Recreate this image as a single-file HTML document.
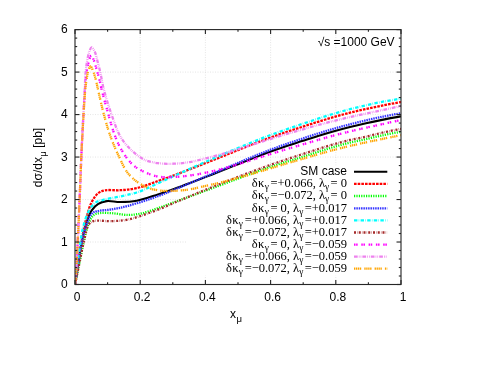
<!DOCTYPE html>
<html><head><meta charset="utf-8"><title>plot</title>
<style>
html,body{margin:0;padding:0;background:#fff;font-family:"Liberation Sans",sans-serif;}
body{width:480px;height:371px;position:relative;overflow:hidden;font-family:"Liberation Sans",sans-serif;}
#tx{position:absolute;left:0;top:0;width:480px;height:371px;will-change:transform;opacity:0.999;}
.t{position:absolute;font-family:"Liberation Sans",sans-serif;font-size:12px;line-height:14px;color:#000;white-space:nowrap;}
.xt{width:40px;text-align:center;}
.yt{left:27.8px;width:40px;text-align:right;}
.sub{font-size:9.6px;position:relative;top:4.2px;margin-left:0.4px;}
.yl{left:-12px;top:150px;width:100px;text-align:center;transform:rotate(-90deg);transform-origin:50% 50%;}
.lg0{left:147px;width:200px;text-align:right;}
.lg{left:147px;width:200px;text-align:right;font-family:"Liberation Serif",serif;font-size:12.5px;}
.sb{font-size:9.4px;position:relative;top:3.0px;}
.gk{letter-spacing:0.3px;}
.e1{margin-left:-1.5px;}
.e2{margin-left:-1.7px;}
</style></head><body>
<svg width="480" height="371" viewBox="0 0 480 371" style="position:absolute;left:0;top:0">
<rect width="480" height="371" fill="#fff"/>
<g stroke="#dadada" stroke-width="0.7" stroke-dasharray="1 1.5" fill="none"><line x1="140.20" y1="29.60" x2="140.20" y2="284.50"/><line x1="205.40" y1="29.60" x2="205.40" y2="284.50"/><line x1="270.60" y1="29.60" x2="270.60" y2="284.50"/><line x1="335.80" y1="29.60" x2="335.80" y2="284.50"/><line x1="75.00" y1="242.02" x2="401.00" y2="242.02"/><line x1="75.00" y1="199.53" x2="401.00" y2="199.53"/><line x1="75.00" y1="157.05" x2="401.00" y2="157.05"/><line x1="75.00" y1="114.57" x2="401.00" y2="114.57"/><line x1="75.00" y1="72.08" x2="401.00" y2="72.08"/></g>
<rect x="187" y="165.5" width="213" height="110" fill="#fff"/>
<defs><clipPath id="cp"><rect x="75.00" y="29.60" width="326.00" height="254.90"/></clipPath></defs>
<filter id="bl" x="0" y="0" width="480" height="371" filterUnits="userSpaceOnUse"><feGaussianBlur stdDeviation="0.35"/></filter>
<g filter="url(#bl)">
<g clip-path="url(#cp)" fill="none" stroke-width="2.30" stroke-linejoin="round">
<path d="M75.00 284.50 C76.17 277.00 77.35 269.28 78.50 262.00 C79.58 255.14 80.34 248.65 81.70 242.00 C83.07 235.27 84.77 227.59 86.70 221.88 C88.20 217.43 89.55 213.48 91.70 210.35 C93.54 207.66 95.76 205.39 98.30 203.85 C100.78 202.35 103.54 201.53 106.70 201.14 C110.59 200.66 115.32 202.03 120.00 202.02 C125.25 202.01 130.86 201.89 136.70 200.82 C143.43 199.58 151.43 196.54 158.00 194.43 C163.73 192.59 168.68 190.85 174.00 188.95 C179.34 187.05 184.67 185.05 190.00 183.04 C195.34 181.02 200.67 178.94 206.00 176.86 C211.34 174.78 216.67 172.70 222.00 170.58 C227.34 168.47 232.66 166.29 238.00 164.17 C243.33 162.05 248.66 159.92 254.00 157.86 C259.33 155.81 264.66 153.79 270.00 151.85 C275.32 149.93 280.66 148.08 286.00 146.28 C291.32 144.49 296.67 142.81 302.00 141.09 C307.33 139.38 312.66 137.62 318.00 135.97 C323.32 134.33 328.66 132.72 334.00 131.22 C339.32 129.72 344.66 128.29 350.00 126.95 C355.32 125.62 360.66 124.39 366.00 123.21 C371.33 122.03 376.66 120.92 382.00 119.86 C387.33 118.80 394.78 117.45 398.00 116.86 C399.39 116.60 400.00 116.50 401.00 116.33" stroke="#000000" stroke-width="2.1"/>
<path d="M75.00 284.50 C76.17 277.00 77.37 269.39 78.50 262.00 C79.60 254.83 80.39 248.06 81.70 240.80 C83.09 233.05 84.80 223.85 86.70 216.88 C88.22 211.30 89.52 206.24 91.70 202.05 C93.54 198.51 95.78 195.01 98.30 193.05 C100.33 191.47 102.26 190.88 105.00 190.33 C108.95 189.54 114.88 190.56 120.00 190.22 C125.43 189.86 130.86 189.44 136.70 188.12 C143.44 186.60 151.42 183.35 158.00 181.08 C163.73 179.10 168.68 177.29 174.00 175.31 C179.34 173.33 184.67 171.27 190.00 169.20 C195.34 167.13 200.67 165.01 206.00 162.90 C211.33 160.79 216.67 158.68 222.00 156.54 C227.34 154.40 232.66 152.21 238.00 150.08 C243.33 147.95 248.66 145.81 254.00 143.75 C259.32 141.69 264.65 139.66 270.00 137.72 C275.32 135.79 280.66 133.94 286.00 132.14 C291.32 130.34 296.67 128.66 302.00 126.94 C307.33 125.21 312.66 123.45 318.00 121.80 C323.32 120.15 328.66 118.53 334.00 117.02 C339.32 115.51 344.66 114.07 350.00 112.72 C355.32 111.38 360.66 110.15 366.00 108.96 C371.33 107.77 376.66 106.66 382.00 105.59 C387.33 104.54 394.78 103.18 398.00 102.59 C399.39 102.34 400.00 102.24 401.00 102.07" stroke="#ff0000" stroke-dasharray="2.6 1.07"/>
<path d="M75.00 284.50 C76.33 278.00 77.57 271.90 79.00 265.00 C80.61 257.20 82.47 247.37 84.20 240.08 C85.57 234.33 86.56 229.13 88.30 224.74 C89.72 221.15 91.05 217.31 93.30 215.40 C95.14 213.83 97.42 213.52 100.00 213.10 C103.32 212.56 107.47 212.93 111.70 213.17 C116.76 213.46 123.06 215.00 128.30 214.97 C133.01 214.94 137.06 214.36 141.70 213.35 C146.92 212.21 152.61 209.96 158.00 208.12 C163.38 206.28 168.67 204.26 174.00 202.31 C179.34 200.36 184.67 198.39 190.00 196.42 C195.33 194.45 200.67 192.47 206.00 190.50 C211.33 188.53 216.67 186.58 222.00 184.60 C227.34 182.62 232.66 180.59 238.00 178.60 C243.33 176.61 248.66 174.61 254.00 172.68 C259.33 170.76 264.65 168.85 270.00 167.05 C275.32 165.27 280.66 163.59 286.00 161.92 C291.33 160.26 296.67 158.72 302.00 157.05 C307.34 155.38 312.66 153.58 318.00 151.89 C323.33 150.21 328.65 148.50 334.00 146.95 C339.32 145.41 344.65 143.93 350.00 142.62 C355.32 141.33 360.67 140.34 366.00 139.14 C371.34 137.94 376.66 136.57 382.00 135.42 C387.32 134.28 394.77 132.88 398.00 132.28 C399.39 132.02 400.00 131.94 401.00 131.76" stroke="#00ff00" stroke-dasharray="1.2 1.2"/>
<path d="M75.00 284.50 C76.17 277.00 77.34 269.18 78.50 262.00 C79.57 255.40 80.34 249.29 81.70 243.00 C83.07 236.68 84.76 229.47 86.70 224.18 C88.20 220.08 89.59 215.76 91.70 213.65 C93.16 212.20 94.52 211.94 96.70 211.30 C100.30 210.25 106.59 210.25 111.70 209.37 C117.11 208.44 122.02 207.46 128.30 205.77 C136.82 203.47 149.66 199.15 158.00 196.15 C164.19 193.92 168.68 191.96 174.00 189.79 C179.34 187.61 184.67 185.35 190.00 183.12 C195.34 180.88 200.66 178.60 206.00 176.37 C211.33 174.14 216.67 171.98 222.00 169.74 C227.34 167.49 232.66 165.16 238.00 162.91 C243.33 160.66 248.66 158.40 254.00 156.23 C259.32 154.07 264.65 151.95 270.00 149.93 C275.32 147.91 280.66 145.98 286.00 144.12 C291.32 142.26 296.66 140.52 302.00 138.75 C307.33 136.99 312.66 135.19 318.00 133.51 C323.32 131.84 328.66 130.22 334.00 128.69 C339.32 127.16 344.66 125.71 350.00 124.32 C355.33 122.94 360.66 121.62 366.00 120.37 C371.33 119.13 376.66 117.97 382.00 116.86 C387.33 115.76 394.78 114.36 398.00 113.75 C399.39 113.49 400.00 113.39 401.00 113.21" stroke="#3434ff" stroke-dasharray="1.5 0.85"/>
<path d="M75.00 284.50 C76.27 274.67 77.50 264.42 78.80 255.00 C80.00 246.32 80.73 237.61 82.50 230.02 C84.03 223.44 85.82 216.76 88.30 211.94 C90.21 208.23 92.30 204.98 95.00 202.95 C97.40 201.14 100.01 200.76 103.30 199.82 C107.86 198.52 114.45 197.73 120.00 196.52 C125.58 195.30 130.88 194.45 136.70 192.52 C143.46 190.28 151.42 186.29 158.00 183.36 C163.73 180.80 168.66 178.41 174.00 175.97 C179.33 173.53 184.66 171.12 190.00 168.73 C195.33 166.35 200.66 163.99 206.00 161.67 C211.33 159.35 216.66 157.08 222.00 154.81 C227.33 152.54 232.66 150.25 238.00 148.02 C243.33 145.80 248.66 143.59 254.00 141.46 C259.32 139.33 264.65 137.25 270.00 135.24 C275.32 133.25 280.66 131.34 286.00 129.47 C291.32 127.61 296.67 125.86 302.00 124.06 C307.33 122.26 312.66 120.42 318.00 118.69 C323.32 116.96 328.65 115.26 334.00 113.67 C339.32 112.09 344.65 110.57 350.00 109.16 C355.32 107.76 360.66 106.47 366.00 105.25 C371.32 104.04 376.66 102.91 382.00 101.88 C387.32 100.86 394.78 99.62 398.00 99.09 C399.39 98.86 400.00 98.79 401.00 98.64" stroke="#00ffff" stroke-dasharray="3.4 1.3 0.5 1.4"/>
<path d="M75.00 284.50 C76.33 278.00 77.57 271.90 79.00 265.00 C80.61 257.20 82.45 247.29 84.20 240.08 C85.56 234.47 86.20 228.44 88.30 225.24 C89.66 223.16 90.91 222.05 93.30 221.20 C97.35 219.76 105.73 221.48 111.70 221.17 C117.38 220.88 122.05 220.81 128.30 219.47 C136.86 217.64 149.67 212.78 158.00 209.64 C164.21 207.31 168.66 205.11 174.00 202.87 C179.33 200.63 184.66 198.40 190.00 196.19 C195.33 193.98 200.66 191.78 206.00 189.62 C211.33 187.45 216.66 185.30 222.00 183.18 C227.33 181.07 232.66 178.98 238.00 176.92 C243.33 174.86 248.66 172.83 254.00 170.85 C259.33 168.87 264.66 166.92 270.00 165.03 C275.33 163.15 280.66 161.30 286.00 159.51 C291.33 157.73 296.67 156.04 302.00 154.31 C307.33 152.57 312.66 150.79 318.00 149.10 C323.33 147.42 328.65 145.74 334.00 144.22 C339.32 142.70 344.65 141.25 350.00 139.99 C355.32 138.74 360.68 137.87 366.00 136.67 C371.34 135.46 376.66 133.96 382.00 132.75 C387.32 131.55 394.77 130.08 398.00 129.45 C399.39 129.18 400.00 129.08 401.00 128.90" stroke="#a52a2a" stroke-dasharray="2.0 1.2 0.4 1.15"/>
<path d="M75.00 284.50 C75.43 279.67 75.94 275.22 76.30 270.00 C76.73 263.87 76.96 257.04 77.30 250.00 C77.69 242.13 78.11 233.57 78.50 225.00 C78.91 215.93 79.24 207.89 79.70 197.00 C80.35 181.73 81.11 160.20 82.00 142.00 C82.88 124.04 84.18 100.42 85.00 88.50 C85.41 82.51 85.53 79.23 86.10 75.00 C86.61 71.21 87.20 67.66 88.10 64.30 C88.93 61.19 90.14 55.61 91.20 55.50 C91.89 55.43 92.64 57.48 93.30 58.90 C94.26 60.98 95.14 64.50 95.90 67.00 C96.55 69.14 97.02 70.89 97.60 73.00 C98.25 75.34 99.00 77.93 99.60 80.40 C100.20 82.86 100.43 84.61 101.20 87.80 C102.64 93.72 105.65 104.82 108.00 113.00 C110.25 120.82 112.44 129.20 115.00 135.85 C117.08 141.27 118.97 145.61 121.70 150.19 C124.51 154.91 128.05 160.17 131.70 163.71 C134.81 166.73 137.81 168.65 141.70 170.66 C146.34 173.07 152.51 175.55 158.00 176.58 C163.28 177.56 168.67 177.12 174.00 176.94 C179.34 176.75 184.68 176.19 190.00 175.49 C195.35 174.78 200.68 173.77 206.00 172.67 C211.35 171.56 216.68 170.27 222.00 168.87 C227.35 167.47 232.68 165.86 238.00 164.26 C243.34 162.66 248.67 160.94 254.00 159.26 C259.33 157.58 264.66 155.85 270.00 154.19 C275.33 152.54 280.66 150.90 286.00 149.31 C291.33 147.72 296.67 146.21 302.00 144.65 C307.33 143.09 312.66 141.46 318.00 139.93 C323.33 138.41 328.66 136.91 334.00 135.48 C339.33 134.07 344.66 132.71 350.00 131.41 C355.33 130.12 360.66 128.92 366.00 127.72 C371.33 126.51 376.67 125.36 382.00 124.19 C387.33 123.02 394.78 121.39 398.00 120.68 C399.40 120.37 400.00 120.23 401.00 120.01" stroke="#ff00ff" stroke-dasharray="1.5 0.65 1.5 3.65"/>
<path d="M75.00 284.50 C75.43 279.67 75.94 275.22 76.30 270.00 C76.73 263.87 76.96 257.04 77.30 250.00 C77.69 242.13 78.11 233.57 78.50 225.00 C78.91 215.93 79.24 207.89 79.70 197.00 C80.35 181.73 81.14 160.20 82.00 142.00 C82.85 124.04 84.22 100.43 84.80 88.50 C85.09 82.51 85.05 79.37 85.40 75.00 C85.73 70.85 86.18 66.67 86.80 62.90 C87.35 59.56 87.91 56.26 88.80 53.50 C89.54 51.20 90.44 47.51 91.50 47.40 C92.49 47.30 93.96 50.16 94.90 52.10 C96.13 54.63 96.72 58.33 97.60 61.60 C98.53 65.05 99.40 68.35 100.30 72.30 C101.40 77.13 102.11 82.58 103.60 88.50 C105.46 95.86 108.24 105.02 111.00 113.00 C113.71 120.83 116.60 129.86 120.00 135.95 C122.54 140.52 125.37 143.79 128.30 147.03 C130.96 149.97 133.81 152.52 136.70 154.73 C139.39 156.78 141.80 158.60 145.00 159.96 C148.74 161.54 153.41 162.51 158.00 163.14 C163.02 163.84 168.67 163.91 174.00 163.72 C179.34 163.53 184.69 162.92 190.00 162.02 C195.36 161.11 200.68 159.60 206.00 158.28 C211.34 156.94 216.68 155.54 222.00 154.04 C227.35 152.53 232.67 150.89 238.00 149.25 C243.34 147.60 248.67 145.86 254.00 144.16 C259.33 142.46 264.66 140.72 270.00 139.05 C275.33 137.38 280.66 135.73 286.00 134.14 C291.33 132.56 296.66 131.05 302.00 129.53 C307.33 128.01 312.66 126.47 318.00 125.02 C323.33 123.58 328.66 122.19 334.00 120.86 C339.33 119.54 344.66 118.29 350.00 117.07 C355.33 115.85 360.66 114.68 366.00 113.53 C371.33 112.37 376.67 111.28 382.00 110.14 C387.33 109.00 394.78 107.40 398.00 106.69 C399.40 106.38 400.00 106.24 401.00 106.02" stroke="#ee82ee" stroke-dasharray="3.7 1.1 0.7 1.1 0.7 1.1"/>
<path d="M75.00 284.50 C75.43 279.67 75.94 275.22 76.30 270.00 C76.73 263.87 76.96 257.04 77.30 250.00 C77.69 242.13 78.11 233.57 78.50 225.00 C78.91 215.93 79.24 207.89 79.70 197.00 C80.35 181.73 81.04 160.20 82.00 142.00 C82.95 124.04 84.41 98.48 85.40 88.50 C85.79 84.60 86.06 83.14 86.50 80.40 C86.96 77.55 87.30 74.21 88.10 71.70 C88.75 69.64 89.76 66.33 90.60 66.30 C91.33 66.27 92.13 68.79 92.80 70.30 C93.59 72.09 94.25 74.21 94.90 76.40 C95.64 78.89 96.37 82.27 96.90 84.50 C97.27 86.06 97.37 86.60 97.80 88.50 C98.88 93.20 101.41 105.08 103.50 113.00 C105.49 120.56 107.49 127.89 110.00 135.00 C112.44 141.92 115.22 148.63 118.30 155.12 C121.33 161.50 124.00 168.46 128.30 173.63 C132.41 178.57 138.05 182.91 143.30 185.71 C148.00 188.21 152.94 189.43 158.00 190.29 C163.16 191.16 168.67 191.01 174.00 190.84 C179.34 190.68 184.69 190.12 190.00 189.29 C195.36 188.46 200.67 187.02 206.00 185.84 C211.34 184.66 216.68 183.55 222.00 182.22 C227.35 180.88 232.67 179.31 238.00 177.82 C243.34 176.33 248.67 174.83 254.00 173.28 C259.34 171.72 264.67 170.12 270.00 168.52 C275.34 166.91 280.66 165.24 286.00 163.65 C291.33 162.06 296.67 160.56 302.00 159.00 C307.33 157.45 312.66 155.83 318.00 154.32 C323.33 152.81 328.66 151.32 334.00 149.92 C339.32 148.53 344.66 147.20 350.00 145.94 C355.33 144.68 360.66 143.52 366.00 142.37 C371.33 141.22 376.67 140.12 382.00 139.02 C387.33 137.92 394.78 136.42 398.00 135.76 C399.40 135.47 400.00 135.34 401.00 135.14" stroke="#ffa500" stroke-dasharray="1.35 0.6 1.35 0.6 1.35 0.6 1.35 3.1"/>
</g>
<g fill="none" stroke-width="2.30">
<line x1="354" y1="171.80" x2="387.3" y2="171.80" stroke="#000000" stroke-width="2.1"/>
<line x1="354" y1="183.90" x2="387.3" y2="183.90" stroke="#ff0000" stroke-dasharray="2.6 1.07"/>
<line x1="354" y1="196.00" x2="387.3" y2="196.00" stroke="#00ff00" stroke-dasharray="1.2 1.2"/>
<line x1="354" y1="208.40" x2="387.3" y2="208.40" stroke="#3434ff" stroke-dasharray="1.5 0.85"/>
<line x1="354" y1="220.30" x2="387.3" y2="220.30" stroke="#00ffff" stroke-dasharray="3.4 1.3 0.5 1.4"/>
<line x1="354" y1="232.50" x2="387.3" y2="232.50" stroke="#a52a2a" stroke-dasharray="2.0 1.2 0.4 1.15"/>
<line x1="354" y1="244.60" x2="387.3" y2="244.60" stroke="#ff00ff" stroke-dasharray="1.5 0.65 1.5 3.65"/>
<line x1="354" y1="256.70" x2="387.3" y2="256.70" stroke="#ee82ee" stroke-dasharray="3.7 1.1 0.7 1.1 0.7 1.1"/>
<line x1="354" y1="268.70" x2="387.3" y2="268.70" stroke="#ffa500" stroke-dasharray="1.35 0.6 1.35 0.6 1.35 0.6 1.35 3.1"/>
</g>
</g>
<g stroke="#262626" stroke-width="1.12" fill="none"><rect x="75.00" y="29.60" width="326.00" height="254.90"/><line x1="75.00" y1="284.50" x2="75.00" y2="280.00"/><line x1="75.00" y1="29.60" x2="75.00" y2="34.10"/><line x1="107.60" y1="284.50" x2="107.60" y2="282.30"/><line x1="107.60" y1="29.60" x2="107.60" y2="31.80"/><line x1="140.20" y1="284.50" x2="140.20" y2="280.00"/><line x1="140.20" y1="29.60" x2="140.20" y2="34.10"/><line x1="172.80" y1="284.50" x2="172.80" y2="282.30"/><line x1="172.80" y1="29.60" x2="172.80" y2="31.80"/><line x1="205.40" y1="284.50" x2="205.40" y2="280.00"/><line x1="205.40" y1="29.60" x2="205.40" y2="34.10"/><line x1="238.00" y1="284.50" x2="238.00" y2="282.30"/><line x1="238.00" y1="29.60" x2="238.00" y2="31.80"/><line x1="270.60" y1="284.50" x2="270.60" y2="280.00"/><line x1="270.60" y1="29.60" x2="270.60" y2="34.10"/><line x1="303.20" y1="284.50" x2="303.20" y2="282.30"/><line x1="303.20" y1="29.60" x2="303.20" y2="31.80"/><line x1="335.80" y1="284.50" x2="335.80" y2="280.00"/><line x1="335.80" y1="29.60" x2="335.80" y2="34.10"/><line x1="368.40" y1="284.50" x2="368.40" y2="282.30"/><line x1="368.40" y1="29.60" x2="368.40" y2="31.80"/><line x1="401.00" y1="284.50" x2="401.00" y2="280.00"/><line x1="401.00" y1="29.60" x2="401.00" y2="34.10"/><line x1="75.00" y1="284.50" x2="79.50" y2="284.50"/><line x1="401.00" y1="284.50" x2="396.50" y2="284.50"/><line x1="75.00" y1="276.00" x2="77.20" y2="276.00"/><line x1="401.00" y1="276.00" x2="398.80" y2="276.00"/><line x1="75.00" y1="267.51" x2="77.20" y2="267.51"/><line x1="401.00" y1="267.51" x2="398.80" y2="267.51"/><line x1="75.00" y1="259.01" x2="77.20" y2="259.01"/><line x1="401.00" y1="259.01" x2="398.80" y2="259.01"/><line x1="75.00" y1="250.51" x2="77.20" y2="250.51"/><line x1="401.00" y1="250.51" x2="398.80" y2="250.51"/><line x1="75.00" y1="242.02" x2="79.50" y2="242.02"/><line x1="401.00" y1="242.02" x2="396.50" y2="242.02"/><line x1="75.00" y1="233.52" x2="77.20" y2="233.52"/><line x1="401.00" y1="233.52" x2="398.80" y2="233.52"/><line x1="75.00" y1="225.02" x2="77.20" y2="225.02"/><line x1="401.00" y1="225.02" x2="398.80" y2="225.02"/><line x1="75.00" y1="216.53" x2="77.20" y2="216.53"/><line x1="401.00" y1="216.53" x2="398.80" y2="216.53"/><line x1="75.00" y1="208.03" x2="77.20" y2="208.03"/><line x1="401.00" y1="208.03" x2="398.80" y2="208.03"/><line x1="75.00" y1="199.53" x2="79.50" y2="199.53"/><line x1="401.00" y1="199.53" x2="396.50" y2="199.53"/><line x1="75.00" y1="191.04" x2="77.20" y2="191.04"/><line x1="401.00" y1="191.04" x2="398.80" y2="191.04"/><line x1="75.00" y1="182.54" x2="77.20" y2="182.54"/><line x1="401.00" y1="182.54" x2="398.80" y2="182.54"/><line x1="75.00" y1="174.04" x2="77.20" y2="174.04"/><line x1="401.00" y1="174.04" x2="398.80" y2="174.04"/><line x1="75.00" y1="165.55" x2="77.20" y2="165.55"/><line x1="401.00" y1="165.55" x2="398.80" y2="165.55"/><line x1="75.00" y1="157.05" x2="79.50" y2="157.05"/><line x1="401.00" y1="157.05" x2="396.50" y2="157.05"/><line x1="75.00" y1="148.55" x2="77.20" y2="148.55"/><line x1="401.00" y1="148.55" x2="398.80" y2="148.55"/><line x1="75.00" y1="140.06" x2="77.20" y2="140.06"/><line x1="401.00" y1="140.06" x2="398.80" y2="140.06"/><line x1="75.00" y1="131.56" x2="77.20" y2="131.56"/><line x1="401.00" y1="131.56" x2="398.80" y2="131.56"/><line x1="75.00" y1="123.06" x2="77.20" y2="123.06"/><line x1="401.00" y1="123.06" x2="398.80" y2="123.06"/><line x1="75.00" y1="114.57" x2="79.50" y2="114.57"/><line x1="401.00" y1="114.57" x2="396.50" y2="114.57"/><line x1="75.00" y1="106.07" x2="77.20" y2="106.07"/><line x1="401.00" y1="106.07" x2="398.80" y2="106.07"/><line x1="75.00" y1="97.57" x2="77.20" y2="97.57"/><line x1="401.00" y1="97.57" x2="398.80" y2="97.57"/><line x1="75.00" y1="89.08" x2="77.20" y2="89.08"/><line x1="401.00" y1="89.08" x2="398.80" y2="89.08"/><line x1="75.00" y1="80.58" x2="77.20" y2="80.58"/><line x1="401.00" y1="80.58" x2="398.80" y2="80.58"/><line x1="75.00" y1="72.08" x2="79.50" y2="72.08"/><line x1="401.00" y1="72.08" x2="396.50" y2="72.08"/><line x1="75.00" y1="63.59" x2="77.20" y2="63.59"/><line x1="401.00" y1="63.59" x2="398.80" y2="63.59"/><line x1="75.00" y1="55.09" x2="77.20" y2="55.09"/><line x1="401.00" y1="55.09" x2="398.80" y2="55.09"/><line x1="75.00" y1="46.59" x2="77.20" y2="46.59"/><line x1="401.00" y1="46.59" x2="398.80" y2="46.59"/><line x1="75.00" y1="38.10" x2="77.20" y2="38.10"/><line x1="401.00" y1="38.10" x2="398.80" y2="38.10"/><line x1="75.00" y1="29.60" x2="79.50" y2="29.60"/><line x1="401.00" y1="29.60" x2="396.50" y2="29.60"/></g>
</svg>
<div id="tx">
<div class="t xt" style="left:57.00px;top:290.0px">0</div>
<div class="t xt" style="left:122.20px;top:290.0px">0.2</div>
<div class="t xt" style="left:187.40px;top:290.0px">0.4</div>
<div class="t xt" style="left:252.60px;top:290.0px">0.6</div>
<div class="t xt" style="left:317.80px;top:290.0px">0.8</div>
<div class="t xt" style="left:383.00px;top:290.0px">1</div>
<div class="t yt" style="top:277.10px">0</div>
<div class="t yt" style="top:234.62px">1</div>
<div class="t yt" style="top:192.13px">2</div>
<div class="t yt" style="top:149.65px">3</div>
<div class="t yt" style="top:107.17px">4</div>
<div class="t yt" style="top:64.68px">5</div>
<div class="t yt" style="top:22.20px">6</div>
<div class="t" style="left:300px;width:94.6px;top:35.3px;text-align:right">&#8730;s =1000 GeV</div>
<div class="t" style="left:216px;width:40px;top:307.1px;text-align:center;">x<span class="sub">&#956;</span></div>
<div class="t yl">d&#963;/dx<span class="sub">&#956;</span> [pb]</div>
<div class="t lg0" style="top:164.20px">SM case</div>
<div class="t lg" style="top:176.30px"><span class="gk">&#948;&#954;</span><span class="sb">&#947;</span><span class="e1"> =+0.066,</span> <span class="lm">&#955;</span><span class="sb">&#947;</span><span class="e2"> = 0</span></div>
<div class="t lg" style="top:188.40px"><span class="gk">&#948;&#954;</span><span class="sb">&#947;</span><span class="e1"> =&#8722;0.072,</span> <span class="lm">&#955;</span><span class="sb">&#947;</span><span class="e2"> = 0</span></div>
<div class="t lg" style="top:200.80px"><span class="gk">&#948;&#954;</span><span class="sb">&#947;</span><span class="e1"> = 0,</span> <span class="lm">&#955;</span><span class="sb">&#947;</span><span class="e2"> =+0.017</span></div>
<div class="t lg" style="top:212.70px"><span class="gk">&#948;&#954;</span><span class="sb">&#947;</span><span class="e1"> =+0.066,</span> <span class="lm">&#955;</span><span class="sb">&#947;</span><span class="e2"> =+0.017</span></div>
<div class="t lg" style="top:224.90px"><span class="gk">&#948;&#954;</span><span class="sb">&#947;</span><span class="e1"> =&#8722;0.072,</span> <span class="lm">&#955;</span><span class="sb">&#947;</span><span class="e2"> =+0.017</span></div>
<div class="t lg" style="top:237.00px"><span class="gk">&#948;&#954;</span><span class="sb">&#947;</span><span class="e1"> = 0,</span> <span class="lm">&#955;</span><span class="sb">&#947;</span><span class="e2"> =&#8722;0.059</span></div>
<div class="t lg" style="top:249.10px"><span class="gk">&#948;&#954;</span><span class="sb">&#947;</span><span class="e1"> =+0.066,</span> <span class="lm">&#955;</span><span class="sb">&#947;</span><span class="e2"> =&#8722;0.059</span></div>
<div class="t lg" style="top:261.10px"><span class="gk">&#948;&#954;</span><span class="sb">&#947;</span><span class="e1"> =&#8722;0.072,</span> <span class="lm">&#955;</span><span class="sb">&#947;</span><span class="e2"> =&#8722;0.059</span></div>
</div>
</body></html>
